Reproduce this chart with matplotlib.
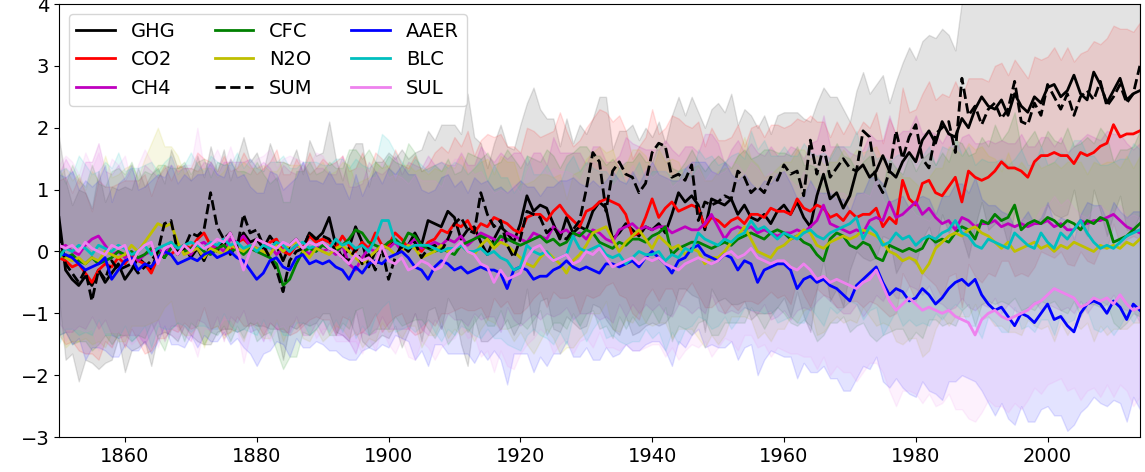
import numpy as np
import matplotlib
matplotlib.use('Agg')
import matplotlib.pyplot as plt

# annual ensemble means, 1850-2014
ghg = [0.55, -0.3, -0.45, -0.55, -0.4, -0.55, -0.3, -0.5, -0.35, -0.2,
       -0.45, -0.3, -0.1, -0.2, -0.3, 0.0, -0.1, 0.15, -0.05, 0.1,
       -0.1, 0.05, -0.15, 0.1, 0.0, 0.2, -0.05, 0.1, 0.3, 0.15,
       0.2, 0.05, 0.25, 0.1, -0.15, 0.1, 0.2, 0.05, 0.3, 0.2,
       0.3, 0.55, 0.1, -0.1, 0.05, 0.4, 0.15, -0.25, 0.0, 0.05,
       0.1, 0.15, 0.05, 0.1, 0.3, 0.1, 0.5, 0.45, 0.4, 0.65,
       0.55, 0.2, 0.35, 0.4, 0.15, -0.05, 0.2, 0.4, 0.3, 0.15,
       0.45, 0.9, 0.65, 0.75, 0.7, 0.45, 0.2, 0.55, 0.3, 0.4,
       0.35, 0.65, 0.8, 0.7, 0.2, 0.3, 0.45, 0.35, 0.25, 0.4,
       0.35, 0.45, 0.3, 0.6, 0.95, 0.8, 0.9, 0.75, 0.35, 0.85,
       0.8, 0.75, 0.85, 0.6, 0.75, 0.55, 0.5, 0.6, 0.45, 0.65,
       0.75, 0.6, 0.8, 0.55, 0.4, 0.9, 1.25, 0.85, 0.95, 0.7,
       0.9, 1.3, 1.4, 1.2, 1.3, 1.55, 1.3, 1.2, 1.45, 1.6,
       1.45, 1.8, 1.95, 1.75, 2.1, 1.9, 1.85, 2.15, 2.0, 2.3,
       2.5, 2.35, 2.3, 2.45, 2.2, 2.55, 2.35, 2.25, 2.5, 2.4,
       2.65, 2.7, 2.5, 2.6, 2.85, 2.55, 2.45, 2.9, 2.7, 2.4,
       2.6, 2.8, 2.45, 2.55, 2.6]
co2 = [-0.1, -0.15, -0.25, -0.2, -0.35, -0.5, -0.3, -0.2, -0.25, -0.1,
       -0.2, -0.05, -0.15, -0.2, -0.35, -0.1, 0.0, -0.05, 0.05, 0.1,
       0.05, 0.2, 0.3, 0.1, 0.05, 0.1, 0.0, 0.15, 0.2, 0.1,
       0.05, 0.0, 0.15, 0.2, 0.0, -0.05, 0.1, 0.05, 0.25, 0.15,
       0.2, 0.15, 0.05, 0.25, 0.1, 0.0, 0.15, 0.05, 0.3, 0.1,
       0.1, 0.3, 0.2, 0.05, 0.1, 0.0, 0.15, 0.2, 0.35, 0.3,
       0.45, 0.4, 0.5, 0.3, 0.45, 0.4, 0.55, 0.5, 0.45, 0.35,
       0.3, 0.55, 0.6, 0.6, 0.5, 0.65, 0.75, 0.6, 0.5, 0.4,
       0.65, 0.7, 0.8, 0.85, 0.8, 0.75, 0.6, 0.25, 0.3, 0.55,
       0.85, 0.55, 0.7, 0.8, 0.65, 0.7, 0.75, 0.7, 0.4, 0.55,
       0.5, 0.4, 0.5, 0.55, 0.45, 0.6, 0.6, 0.55, 0.7, 0.65,
       0.65, 0.6, 0.85, 0.7, 0.65, 0.75, 0.7, 0.55, 0.6, 0.5,
       0.65, 0.55, 0.6, 0.6, 0.7, 0.4, 0.55, 0.45, 1.15, 0.85,
       0.75, 1.1, 1.15, 0.95, 0.9, 1.05, 1.2, 0.8, 1.3, 1.2,
       1.15, 1.2, 1.3, 1.45, 1.35, 1.35, 1.3, 1.2, 1.45, 1.55,
       1.55, 1.6, 1.55, 1.55, 1.42, 1.6, 1.55, 1.6, 1.7, 1.75,
       2.05, 1.85, 1.9, 1.9, 1.95]
ch4 = [0.05, 0.1, 0.0, -0.05, 0.1, 0.2, 0.25, 0.1, -0.05, 0.0,
       -0.1, 0.0, -0.15, -0.05, 0.0, 0.05, -0.05, 0.1, 0.05, 0.0,
       -0.05, 0.1, 0.15, 0.05, 0.1, 0.0, 0.2, 0.15, 0.25, 0.1,
       0.05, 0.0, 0.1, -0.05, 0.05, 0.0, 0.1, 0.05, -0.05, 0.1,
       0.0, 0.05, -0.05, 0.1, -0.2, -0.3, -0.1, 0.05, 0.0, 0.1,
       0.05, 0.15, 0.0, 0.1, 0.2, 0.05, 0.1, 0.15, 0.1, 0.2,
       0.15, 0.25, 0.1, 0.2, 0.3, 0.25, 0.2, 0.15, 0.3, 0.25,
       0.2, 0.15, 0.3, 0.25, 0.2, 0.4, 0.3, 0.35, 0.25, 0.3,
       0.2, 0.35, 0.3, 0.2, 0.15, 0.35, 0.4, 0.45, 0.35, 0.4,
       0.35, 0.4, 0.4, 0.3, 0.35, 0.4, 0.35, 0.35, 0.45, 0.6,
       0.4, 0.2, 0.35, 0.4, 0.35, 0.4, 0.3, 0.35, 0.3, 0.25,
       0.3, 0.3, 0.35, 0.3, 0.4, 0.5, 0.75, 0.45, 0.4, 0.35,
       0.3, 0.35, 0.3, 0.5, 0.55, 0.5, 0.8, 0.55, 0.6, 0.7,
       0.8, 0.6, 0.7, 0.55, 0.45, 0.5, 0.35, 0.55, 0.5, 0.4,
       0.45, 0.45, 0.5, 0.4, 0.45, 0.4, 0.45, 0.4, 0.45, 0.45,
       0.5, 0.4, 0.45, 0.35, 0.35, 0.5, 0.45, 0.5, 0.5, 0.55,
       0.6, 0.5, 0.4, 0.35, 0.3]
cfc = [0.0, -0.1, -0.05, -0.15, -0.2, -0.1, -0.2, -0.15, -0.1, 0.0,
       -0.05, 0.0, -0.1, -0.05, 0.05, 0.0, -0.1, 0.05, 0.1, 0.0,
       0.05, 0.1, 0.0, -0.05, 0.05, 0.1, 0.0, 0.05, -0.05, 0.05,
       0.0, -0.05, -0.1, -0.2, -0.55, -0.45, -0.2, 0.0, 0.05, 0.0,
       0.1, 0.05, 0.0, 0.1, 0.2, 0.35, 0.3, 0.15, 0.1, 0.05,
       0.15, 0.2, 0.1, 0.3, 0.25, 0.1, 0.05, 0.0, 0.05, 0.0,
       -0.05, 0.1, 0.15, 0.2, 0.25, 0.2, 0.1, 0.25, 0.2, 0.15,
       0.1, 0.15, 0.2, 0.25, 0.15, 0.2, 0.1, 0.15, 0.3, 0.25,
       0.35, 0.3, 0.15, 0.1, 0.05, 0.15, 0.1, 0.2, 0.2, 0.15,
       0.25, 0.3, 0.4, -0.05, 0.05, 0.1, 0.15, 0.15, 0.1, 0.05,
       0.1, 0.15, 0.1, 0.2, 0.25, 0.3, 0.25, 0.2, 0.3, 0.35,
       0.3, 0.2, 0.25, 0.15, 0.1, -0.05, -0.15, 0.2, 0.3, 0.25,
       0.1, 0.05, 0.15, 0.1, -0.1, -0.15, 0.1, 0.05, 0.0, 0.05,
       0.0, 0.05, 0.25, 0.15, 0.2, 0.15, 0.3, 0.4, 0.35, 0.2,
       0.5, 0.45, 0.6, 0.5, 0.55, 0.75, 0.35, 0.45, 0.5, 0.45,
       0.55, 0.5, 0.4, 0.5, 0.45, 0.35, 0.5, 0.45, 0.55, 0.5,
       0.15, 0.2, 0.25, 0.35, 0.45]
n2o = [-0.05, -0.1, -0.15, -0.1, -0.2, -0.1, -0.15, 0.0, -0.05, -0.1,
       -0.05, 0.1, 0.0, 0.15, 0.3, 0.45, 0.4, 0.45, 0.15, -0.05,
       0.0, 0.05, -0.1, 0.05, 0.0, -0.05, 0.1, 0.05, 0.0, 0.1,
       0.05, 0.0, -0.05, 0.1, 0.0, 0.1, 0.15, 0.0, -0.1, 0.05,
       0.0, -0.05, 0.05, 0.1, 0.0, -0.1, -0.2, -0.1, 0.0, 0.1,
       0.05, -0.05, 0.0, 0.1, 0.05, -0.1, -0.05, 0.0, 0.1, 0.0,
       0.05, 0.1, 0.0, -0.05, 0.1, 0.2, 0.05, 0.15, 0.1, 0.0,
       -0.1, -0.2, -0.25, -0.1, 0.0, -0.1, -0.2, -0.35, -0.15, -0.05,
       0.1, 0.3, 0.35, 0.4, 0.2, 0.0, 0.15, 0.25, 0.35, 0.2,
       0.05, 0.25, 0.15, 0.05, 0.1, -0.05, 0.05, 0.0, -0.2, -0.1,
       -0.1, 0.0, 0.15, 0.25, 0.4, 0.2, 0.0, -0.05, -0.1, 0.05,
       0.1, 0.2, 0.25, 0.35, 0.3, 0.1, 0.05, 0.15, 0.2, 0.25,
       0.2, 0.25, 0.35, 0.3, 0.25, 0.15, 0.0, -0.05, -0.15, -0.1,
       -0.15, -0.35, -0.2, 0.05, 0.15, 0.25, 0.3, 0.25, 0.35, 0.4,
       0.3, 0.25, 0.15, 0.05, 0.15, 0.0, 0.05, 0.1, 0.15, 0.05,
       0.1, 0.0, 0.1, 0.05, 0.15, 0.1, 0.05, 0.0, 0.1, 0.05,
       0.1, 0.05, 0.15, 0.1, 0.2]
aaer = [-0.05, -0.05, -0.1, -0.2, -0.3, -0.25, -0.2, -0.1, -0.45, -0.3,
        -0.15, -0.1, -0.3, -0.2, -0.25, -0.1, 0.0, -0.05, -0.2, -0.15,
        -0.1, -0.15, -0.05, 0.0, -0.1, -0.05, 0.0, -0.1, -0.15, -0.3,
        -0.45, -0.35, -0.15, -0.1, -0.25, -0.3, -0.1, -0.05, -0.2, -0.15,
        -0.2, -0.15, -0.25, -0.3, -0.45, -0.25, -0.35, -0.2, -0.15, -0.2,
        -0.1, -0.05, 0.0, -0.1, -0.25, -0.3, -0.45, -0.25, -0.15, -0.2,
        -0.3, -0.25, -0.35, -0.3, -0.25, -0.3, -0.3, -0.35, -0.6, -0.3,
        -0.25, -0.3, -0.45, -0.4, -0.4, -0.3, -0.25, -0.15, -0.25, -0.3,
        -0.25, -0.3, -0.35, -0.2, -0.2, -0.25, -0.2, -0.15, -0.25, -0.1,
        0.0, -0.1, -0.2, -0.35, -0.15, -0.1, 0.05, 0.1, -0.05, -0.1,
        -0.15, -0.05, -0.1, -0.3, -0.15, -0.2, -0.5, -0.3, -0.25, -0.2,
        -0.2, -0.3, -0.6, -0.45, -0.4, -0.5, -0.45, -0.55, -0.6, -0.7,
        -0.8, -0.55, -0.45, -0.35, -0.25, -0.5, -0.7, -0.6, -0.65, -0.8,
        -0.75, -0.6, -0.7, -0.85, -0.75, -0.6, -0.5, -0.45, -0.55, -0.45,
        -0.7, -0.85, -0.95, -0.9, -1.05, -1.2, -1.0, -1.05, -1.15, -1.0,
        -0.85, -1.1, -1.05, -1.2, -1.3, -1.0, -0.85, -0.8, -0.85, -1.0,
        -0.8, -0.9, -1.1, -0.85, -0.95]
blc = [-0.1, 0.05, 0.0, 0.1, 0.05, -0.05, 0.1, 0.05, 0.0, 0.1,
       0.05, -0.05, 0.0, 0.1, -0.05, 0.05, 0.1, 0.15, 0.05, 0.1,
       0.15, 0.1, 0.05, 0.15, 0.1, 0.2, 0.1, 0.15, 0.05, 0.1,
       0.0, 0.1, 0.05, 0.15, 0.1, 0.0, 0.1, 0.15, 0.05, 0.1,
       0.15, 0.05, 0.2, 0.1, 0.15, 0.05, 0.1, 0.0, 0.2, 0.5,
       0.5, 0.15, 0.1, 0.05, 0.1, 0.1, 0.1, 0.05, 0.0, 0.05,
       0.05, 0.1, 0.0, 0.0, 0.05, -0.05, 0.0, -0.1, -0.15, -0.3,
       -0.25, 0.1, 0.0, -0.05, 0.0, -0.15, -0.1, -0.05, 0.25, 0.05,
       0.0, 0.05, 0.1, -0.05, -0.1, -0.05, -0.2, -0.1, 0.0, -0.05,
       -0.05, 0.0, -0.15, -0.05, -0.1, 0.05, 0.0, 0.3, 0.2, 0.15,
       0.1, 0.2, 0.15, 0.25, 0.3, 0.5, 0.35, 0.4, 0.3, 0.2,
       0.3, 0.25, 0.2, 0.3, 0.35, 0.25, 0.2, 0.3, 0.35, 0.4,
       0.45, 0.55, 0.2, 0.4, 0.3, 0.1, 0.15, 0.3, 0.2, 0.25,
       0.1, 0.2, 0.25, 0.2, 0.3, 0.35, 0.5, 0.3, 0.25, 0.1,
       0.05, 0.2, 0.15, 0.1, 0.05, 0.3, 0.2, 0.1, 0.05, 0.3,
       0.15, 0.05, 0.3, 0.2, 0.35, 0.5, 0.3, 0.15, 0.05, 0.1,
       0.05, 0.15, 0.25, 0.3, 0.35]
sul = [0.1, 0.05, 0.1, 0.0, 0.15, 0.05, 0.0, -0.05, 0.1, 0.05,
       0.1, -0.2, 0.0, 0.1, 0.15, -0.2, 0.05, 0.1, -0.05, 0.1,
       0.0, 0.15, 0.05, 0.1, 0.2, 0.15, 0.3, 0.05, -0.3, 0.0,
       0.2, 0.15, 0.1, 0.05, 0.15, 0.1, 0.2, 0.05, 0.15, 0.1,
       0.15, 0.05, 0.0, -0.1, -0.2, -0.05, -0.15, -0.1, -0.2, 0.1,
       -0.15, -0.2, -0.1, -0.3, -0.25, -0.15, -0.2, -0.3, -0.25, -0.05,
       0.05, 0.15, 0.0, -0.05, -0.2, -0.25, -0.5, -0.3, -0.45, -0.4,
       -0.35, -0.1, 0.05, 0.1, -0.05, -0.15, -0.1, -0.05, -0.2, -0.15,
       0.0, -0.05, 0.05, -0.1, -0.25, -0.2, -0.15, -0.1, -0.2, -0.1,
       -0.15, -0.1, -0.2, -0.25, -0.3, -0.2, -0.15, -0.1, -0.15, -0.2,
       -0.15, -0.05, 0.0, -0.1, -0.05, 0.05, -0.1, -0.15, -0.2, -0.15,
       -0.15, -0.25, -0.3, -0.2, -0.3, -0.45, -0.4, -0.5, -0.45, -0.5,
       -0.55, -0.6, -0.5, -0.45, -0.3, -0.55, -0.8, -0.95, -0.85, -0.75,
       -0.85, -0.95, -0.9, -0.95, -1.0, -0.95, -1.05, -1.1, -1.15, -1.35,
       -1.1, -1.0, -0.95, -1.05, -1.1, -1.05, -1.0, -0.95, -0.85, -0.8,
       -0.7, -0.6, -0.65, -0.7, -0.75, -0.9, -0.85, -0.75, -0.8, -0.75,
       -0.85, -0.7, -0.85, -0.95, -0.9]
total = [0.3, -0.2, -0.35, -0.5, -0.3, -0.8, -0.3, -0.45, -0.15, -0.3,
         -0.25, -0.2, -0.35, -0.25, -0.15, 0.0, 0.45, 0.5, 0.0, 0.05,
         0.3, 0.25, 0.35, 0.95, 0.4, 0.2, 0.3, 0.05, 0.6, 0.3,
         0.35, 0.1, -0.1, -0.3, -0.65, -0.15, 0.0, 0.05, 0.3, 0.2,
         0.25, 0.2, 0.0, -0.1, -0.15, 0.05, -0.2, -0.05, -0.3, 0.05,
         -0.45, -0.1, 0.1, 0.0, 0.15, -0.1, 0.05, 0.1, 0.0, 0.2,
         0.45, 0.55, 0.35, 0.3, 0.95, 0.6, 0.4, 0.5, 0.1, -0.1,
         0.2, 0.65, 0.6, 0.55, 0.3, 0.4, 0.25, 0.2, 0.35, 0.5,
         1.0, 1.6, 1.45, 0.65, 1.3, 1.45, 1.25, 1.2, 0.95, 1.1,
         1.6, 1.75, 1.7, 1.2, 1.25, 1.15, 1.4, 0.5, 0.8, 0.75,
         0.8, 0.9, 0.85, 1.3, 1.2, 0.95, 1.05, 0.95, 1.2, 1.15,
         1.4, 1.25, 1.3, 0.9, 1.8, 1.25, 1.7, 1.2, 1.35, 1.5,
         1.35, 1.3, 1.95, 1.85, 1.15, 0.95, 1.3, 1.95, 1.5, 1.85,
         2.05, 1.5, 1.35, 1.9, 2.0, 2.1, 1.6, 2.8, 2.2, 2.35,
         2.05, 2.3, 2.4, 2.15, 2.3, 2.75, 2.1, 2.05, 2.4, 2.2,
         2.7, 2.5, 2.3, 2.55, 2.2, 2.5, 2.6, 2.45, 2.75, 2.35,
         2.5, 2.7, 2.4, 2.55, 3.0]

# ensemble spread (half width of the shaded range)
ghg_sd = [1.3, 1.45, 1.2, 1.55, 1.35, 1.25, 1.6, 1.3, 1.4, 1.2,
          1.5, 1.3, 1.45, 1.25, 1.55, 1.35, 1.2, 1.5, 1.4, 1.3,
          1.25, 1.5, 1.35, 1.6, 1.3, 1.45, 1.2, 1.4, 1.55, 1.3,
          1.4, 1.25, 1.5, 1.35, 1.6, 1.3, 1.45, 1.2, 1.5, 1.35,
          1.3, 1.55, 1.4, 1.25, 1.5, 1.35, 1.6, 1.3, 1.45, 1.4,
          1.5, 1.35, 1.6, 1.4, 1.3, 1.55, 1.45, 1.35, 1.65, 1.4,
          1.5, 1.7, 2.2, 1.45, 1.6, 1.4, 1.55, 1.65, 1.4, 1.5,
          1.6, 1.5, 2.0, 1.55, 1.45, 1.7, 1.5, 1.6, 1.45, 1.65,
          1.55, 1.5, 1.7, 1.8, 1.45, 1.65, 1.5, 1.7, 1.55, 1.6,
          1.5, 1.65, 1.45, 1.6, 1.55, 1.4, 1.6, 1.5, 1.65, 1.45,
          1.6, 1.5, 1.7, 1.45, 1.55, 1.65, 1.5, 1.6, 1.45, 1.55,
          1.5, 1.65, 1.45, 1.6, 1.7, 1.5, 1.4, 1.65, 1.55, 1.6,
          1.2, 1.3, 1.5, 1.35, 1.4, 1.3, 1.1, 1.55, 1.6, 1.7,
          1.65, 1.6, 1.55, 1.7, 1.5, 1.6, 1.4, 1.9, 2.1, 1.9,
          1.7, 2.0, 1.85, 1.95, 2.1, 1.9, 2.0, 1.8, 2.05, 1.95,
          1.9, 2.1, 1.95, 2.0, 1.85, 2.1, 2.2, 1.9, 2.05, 2.15,
          2.0, 1.9, 2.1, 2.2, 2.0]
co2_sd = [1.25, 1.35, 1.2, 1.4, 1.3, 1.15, 1.45, 1.25, 1.3, 1.2,
          1.35, 1.2, 1.3, 1.45, 1.25, 1.3, 1.4, 1.2, 1.35, 1.25,
          1.3, 1.4, 1.2, 1.35, 1.25, 1.45, 1.3, 1.2, 1.4, 1.3,
          1.2, 1.35, 1.3, 1.45, 1.25, 1.3, 1.4, 1.25, 1.35, 1.2,
          1.3, 1.25, 1.4, 1.3, 1.2, 1.35, 1.45, 1.25, 1.3, 1.4,
          1.25, 1.35, 1.2, 1.3, 1.45, 1.3, 1.25, 1.4, 1.35, 1.3,
          1.4, 1.3, 1.45, 1.25, 1.35, 1.5, 1.3, 1.4, 1.25, 1.35,
          1.3, 1.45, 1.35, 1.25, 1.4, 1.3, 1.5, 1.35, 1.2, 1.4,
          1.35, 1.45, 1.5, 1.4, 1.3, 1.45, 1.35, 1.25, 1.4, 1.3,
          1.45, 1.35, 1.3, 1.4, 1.5, 1.35, 1.25, 1.4, 1.3, 1.45,
          1.3, 1.4, 1.35, 1.5, 1.25, 1.4, 1.45, 1.3, 1.35, 1.4,
          1.35, 1.45, 1.3, 1.4, 1.55, 1.35, 1.4, 1.3, 1.5, 1.4,
          1.45, 1.35, 1.5, 1.4, 1.55, 1.35, 1.6, 1.45, 1.5, 1.4,
          1.55, 1.45, 1.6, 1.5, 1.65, 1.45, 1.55, 1.7, 1.5, 1.6,
          1.65, 1.55, 1.7, 1.6, 1.5, 1.75, 1.65, 1.6, 1.7, 1.55,
          1.6, 1.7, 1.55, 1.75, 1.65, 1.6, 1.7, 1.8, 1.65, 1.7,
          1.6, 1.75, 1.7, 1.65, 1.75]
ch4_sd = [1.2, 1.4, 1.3, 1.15, 1.35, 1.25, 1.5, 1.2, 1.3, 1.4,
          1.25, 1.35, 1.2, 1.45, 1.3, 1.15, 1.4, 1.3, 1.25, 1.35,
          1.4, 1.2, 1.3, 1.35, 1.15, 1.45, 1.25, 1.3, 1.2, 1.4,
          1.3, 1.45, 1.25, 1.2, 1.35, 1.3, 1.15, 1.4, 1.3, 1.25,
          1.35, 1.2, 1.3, 1.45, 1.25, 1.35, 1.2, 1.4, 1.3, 1.15,
          1.3, 1.4, 1.25, 1.35, 1.2, 1.3, 1.45, 1.25, 1.35, 1.2,
          1.25, 1.35, 1.3, 1.2, 1.4, 1.3, 1.25, 1.45, 1.2, 1.35,
          1.4, 1.25, 1.3, 1.35, 1.2, 1.45, 1.3, 1.25, 1.35, 1.3,
          1.2, 1.35, 1.4, 1.25, 1.3, 1.2, 1.45, 1.3, 1.35, 1.25,
          1.3, 1.25, 1.4, 1.35, 1.2, 1.3, 1.35, 1.25, 1.45, 1.3,
          1.35, 1.2, 1.3, 1.4, 1.25, 1.35, 1.3, 1.2, 1.4, 1.3,
          1.25, 1.4, 1.3, 1.2, 1.35, 1.3, 1.45, 1.25, 1.3, 1.35,
          1.3, 1.2, 1.35, 1.4, 1.25, 1.3, 1.4, 1.3, 1.35, 1.25,
          1.4, 1.3, 1.25, 1.35, 1.3, 1.45, 1.25, 1.3, 1.4, 1.35,
          1.3, 1.35, 1.25, 1.4, 1.3, 1.35, 1.45, 1.3, 1.25, 1.4,
          1.35, 1.3, 1.4, 1.25, 1.35, 1.3, 1.45, 1.35, 1.3, 1.4,
          1.3, 1.4, 1.35, 1.3, 1.45]
cfc_sd = [1.35, 1.2, 1.45, 1.3, 1.25, 1.5, 1.3, 1.2, 1.4, 1.35,
          1.3, 1.45, 1.25, 1.35, 1.2, 1.4, 1.5, 1.3, 1.25, 1.45,
          1.2, 1.35, 1.5, 1.25, 1.4, 1.3, 1.45, 1.25, 1.35, 1.2,
          1.45, 1.3, 1.2, 1.4, 1.35, 1.25, 1.5, 1.3, 1.4, 1.25,
          1.2, 1.4, 1.35, 1.25, 1.45, 1.3, 1.2, 1.5, 1.35, 1.3,
          1.4, 1.25, 1.3, 1.45, 1.35, 1.2, 1.3, 1.4, 1.25, 1.5,
          1.3, 1.2, 1.45, 1.35, 1.25, 1.4, 1.3, 1.2, 1.45, 1.35,
          1.25, 1.4, 1.3, 1.2, 1.5, 1.35, 1.25, 1.4, 1.3, 1.45,
          1.35, 1.25, 1.4, 1.3, 1.45, 1.2, 1.35, 1.25, 1.4, 1.3,
          1.2, 1.45, 1.3, 1.4, 1.25, 1.35, 1.5, 1.3, 1.2, 1.4,
          1.45, 1.3, 1.25, 1.35, 1.4, 1.2, 1.3, 1.45, 1.35, 1.25,
          1.3, 1.35, 1.45, 1.25, 1.3, 1.4, 1.2, 1.35, 1.45, 1.3,
          1.4, 1.25, 1.3, 1.45, 1.35, 1.2, 1.4, 1.3, 1.25, 1.5,
          1.3, 1.45, 1.35, 1.25, 1.4, 1.3, 1.5, 1.35, 1.2, 1.4,
          1.35, 1.25, 1.45, 1.3, 1.4, 1.5, 1.3, 1.35, 1.45, 1.25,
          1.4, 1.3, 1.35, 1.5, 1.25, 1.4, 1.35, 1.3, 1.45, 1.35,
          1.3, 1.45, 1.4, 1.35, 1.5]
n2o_sd = [1.25, 1.45, 1.3, 1.35, 1.2, 1.4, 1.3, 1.55, 1.25, 1.35,
          1.4, 1.3, 1.2, 1.35, 1.45, 1.55, 1.3, 1.25, 1.4, 1.3,
          1.35, 1.25, 1.45, 1.3, 1.2, 1.35, 1.4, 1.3, 1.45, 1.25,
          1.3, 1.4, 1.35, 1.2, 1.45, 1.3, 1.25, 1.4, 1.35, 1.3,
          1.45, 1.3, 1.25, 1.35, 1.4, 1.2, 1.35, 1.3, 1.45, 1.25,
          1.35, 1.2, 1.4, 1.3, 1.25, 1.45, 1.3, 1.35, 1.2, 1.4,
          1.3, 1.45, 1.25, 1.4, 1.35, 1.3, 1.2, 1.4, 1.35, 1.45,
          1.2, 1.3, 1.4, 1.35, 1.25, 1.3, 1.45, 1.2, 1.4, 1.35,
          1.4, 1.3, 1.35, 1.2, 1.45, 1.3, 1.25, 1.4, 1.3, 1.35,
          1.25, 1.4, 1.3, 1.45, 1.35, 1.2, 1.3, 1.4, 1.35, 1.25,
          1.4, 1.35, 1.2, 1.3, 1.45, 1.3, 1.4, 1.25, 1.35, 1.3,
          1.35, 1.25, 1.4, 1.3, 1.2, 1.45, 1.35, 1.3, 1.25, 1.4,
          1.3, 1.4, 1.25, 1.35, 1.45, 1.3, 1.2, 1.4, 1.35, 1.3,
          1.25, 1.35, 1.4, 1.3, 1.2, 1.45, 1.35, 1.3, 1.4, 1.25,
          1.4, 1.3, 1.35, 1.25, 1.45, 1.3, 1.4, 1.2, 1.35, 1.3,
          1.3, 1.45, 1.25, 1.4, 1.3, 1.35, 1.2, 1.45, 1.3, 1.4,
          1.35, 1.3, 1.4, 1.25, 1.35]
aaer_sd = [1.3, 1.25, 1.4, 1.2, 1.45, 1.3, 1.35, 1.5, 1.25, 1.4,
           1.35, 1.5, 1.3, 1.25, 1.4, 1.35, 1.2, 1.45, 1.3, 1.4,
           1.25, 1.4, 1.3, 1.45, 1.35, 1.25, 1.5, 1.3, 1.4, 1.35,
           1.4, 1.3, 1.45, 1.35, 1.25, 1.4, 1.3, 1.5, 1.35, 1.3,
           1.3, 1.45, 1.35, 1.4, 1.3, 1.5, 1.25, 1.35, 1.45, 1.3,
           1.45, 1.3, 1.4, 1.35, 1.5, 1.3, 1.4, 1.25, 1.35, 1.45,
           1.35, 1.4, 1.3, 1.5, 1.35, 1.45, 1.3, 1.4, 1.55, 1.35,
           1.4, 1.35, 1.5, 1.3, 1.45, 1.35, 1.4, 1.3, 1.45, 1.4,
           1.3, 1.45, 1.4, 1.35, 1.5, 1.4, 1.3, 1.45, 1.35, 1.4,
           1.45, 1.35, 1.4, 1.5, 1.3, 1.45, 1.4, 1.35, 1.5, 1.4,
           1.4, 1.5, 1.35, 1.45, 1.4, 1.3, 1.5, 1.45, 1.35, 1.45,
           1.5, 1.4, 1.45, 1.35, 1.55, 1.45, 1.4, 1.5, 1.45, 1.55,
           1.45, 1.5, 1.4, 1.55, 1.45, 1.6, 1.5, 1.45, 1.55, 1.5,
           1.6, 1.5, 1.55, 1.45, 1.65, 1.5, 1.6, 1.55, 1.5, 1.65,
           1.55, 1.6, 1.7, 1.55, 1.65, 1.6, 1.5, 1.7, 1.6, 1.55,
           1.65, 1.55, 1.6, 1.7, 1.5, 1.6, 1.65, 1.55, 1.6, 1.5,
           1.6, 1.55, 1.65, 1.5, 1.6]
blc_sd = [1.4, 1.3, 1.25, 1.45, 1.35, 1.3, 1.2, 1.4, 1.35, 1.5,
          1.25, 1.4, 1.35, 1.3, 1.5, 1.25, 1.35, 1.4, 1.2, 1.3,
          1.45, 1.3, 1.25, 1.4, 1.35, 1.2, 1.3, 1.45, 1.3, 1.4,
          1.35, 1.2, 1.4, 1.3, 1.45, 1.35, 1.25, 1.3, 1.4, 1.35,
          1.25, 1.35, 1.3, 1.4, 1.2, 1.45, 1.3, 1.35, 1.25, 1.4,
          1.3, 1.45, 1.35, 1.25, 1.4, 1.3, 1.2, 1.35, 1.45, 1.3,
          1.4, 1.3, 1.25, 1.35, 1.45, 1.2, 1.4, 1.3, 1.35, 1.25,
          1.35, 1.45, 1.25, 1.3, 1.4, 1.35, 1.2, 1.45, 1.3, 1.25,
          1.45, 1.3, 1.2, 1.35, 1.25, 1.4, 1.3, 1.35, 1.45, 1.2,
          1.35, 1.3, 1.45, 1.25, 1.4, 1.3, 1.2, 1.35, 1.3, 1.4,
          1.3, 1.25, 1.4, 1.35, 1.2, 1.45, 1.3, 1.4, 1.25, 1.35,
          1.4, 1.3, 1.35, 1.45, 1.25, 1.3, 1.4, 1.2, 1.35, 1.3,
          1.25, 1.4, 1.3, 1.35, 1.2, 1.45, 1.3, 1.25, 1.4, 1.35,
          1.3, 1.35, 1.45, 1.2, 1.4, 1.3, 1.35, 1.25, 1.45, 1.3,
          1.45, 1.25, 1.3, 1.4, 1.35, 1.2, 1.45, 1.3, 1.35, 1.4,
          1.25, 1.4, 1.3, 1.35, 1.45, 1.3, 1.25, 1.4, 1.35, 1.3,
          1.4, 1.35, 1.25, 1.45, 1.3]
sul_sd = [1.3, 1.5, 1.35, 1.25, 1.45, 1.3, 1.6, 1.25, 1.4, 1.35,
          1.45, 1.3, 1.4, 1.55, 1.3, 1.35, 1.25, 1.45, 1.35, 1.3,
          1.4, 1.85, 1.3, 1.35, 1.45, 1.25, 1.4, 1.3, 1.5, 1.35,
          1.3, 1.4, 1.55, 1.3, 1.35, 1.45, 1.3, 1.4, 1.25, 1.5,
          1.4, 1.3, 1.45, 1.35, 1.25, 1.4, 1.5, 1.3, 1.4, 1.35,
          1.35, 1.45, 1.3, 1.4, 1.5, 1.3, 1.35, 1.45, 1.3, 1.4,
          1.45, 1.35, 1.4, 1.3, 1.5, 1.35, 1.45, 1.3, 1.4, 1.5,
          1.3, 1.4, 1.45, 1.35, 1.3, 1.5, 1.4, 1.35, 1.45, 1.3,
          1.4, 1.5, 1.35, 1.45, 1.3, 1.4, 1.35, 1.5, 1.4, 1.45,
          1.35, 1.4, 1.5, 1.3, 1.45, 1.4, 1.35, 1.45, 1.3, 1.5,
          1.4, 1.35, 1.45, 1.5, 1.3, 1.4, 1.45, 1.35, 1.5, 1.4,
          1.45, 1.4, 1.35, 1.5, 1.4, 1.45, 1.3, 1.5, 1.4, 1.45,
          1.4, 1.5, 1.45, 1.35, 1.5, 1.4, 1.45, 1.55, 1.4, 1.5,
          1.45, 1.5, 1.4, 1.55, 1.45, 1.35, 1.5, 1.45, 1.55, 1.4,
          1.5, 1.4, 1.55, 1.45, 1.5, 1.4, 1.55, 1.45, 1.35, 1.5,
          1.45, 1.5, 1.4, 1.55, 1.45, 1.5, 1.4, 1.45, 1.55, 1.4,
          1.5, 1.45, 1.4, 1.55, 1.45]

years = np.arange(1850, 1850 + len(ghg))

series = [('GHG', ghg, ghg_sd, 'k', '-'),
          ('CO2', co2, co2_sd, 'r', '-'),
          ('CH4', ch4, ch4_sd, 'm', '-'),
          ('CFC', cfc, cfc_sd, 'g', '-'),
          ('N2O', n2o, n2o_sd, 'y', '-'),
          ('SUM', total, None, 'k', '--'),
          ('AAER', aaer, aaer_sd, 'b', '-'),
          ('BLC', blc, blc_sd, 'c', '-'),
          ('SUL', sul, sul_sd, 'violet', '-')]

fig = plt.figure(figsize=(11.45, 4.72), dpi=100)
ax = fig.add_axes([0.0515, 0.074, 0.944, 0.9175])

# shaded spread first so every mean line sits on top
for name, mean, sd, color, ls in series:
    mean = np.array(mean)
    if sd is not None:
        sd = np.array(sd)
        ax.fill_between(years, mean - sd, mean + sd, color=color, alpha=0.11, zorder=1)

for name, mean, sd, color, ls in series:
    ax.plot(years, mean, color=color, linestyle=ls, linewidth=2.0, label=name, zorder=2)

ax.set_xlim(1850, 2014)
ax.set_ylim(-3, 4)
ax.set_yticks(range(-3, 5))
ax.tick_params(labelsize=14)
ax.legend(loc='upper left', ncol=3, fontsize=14)

plt.savefig('out.png', dpi=100)
